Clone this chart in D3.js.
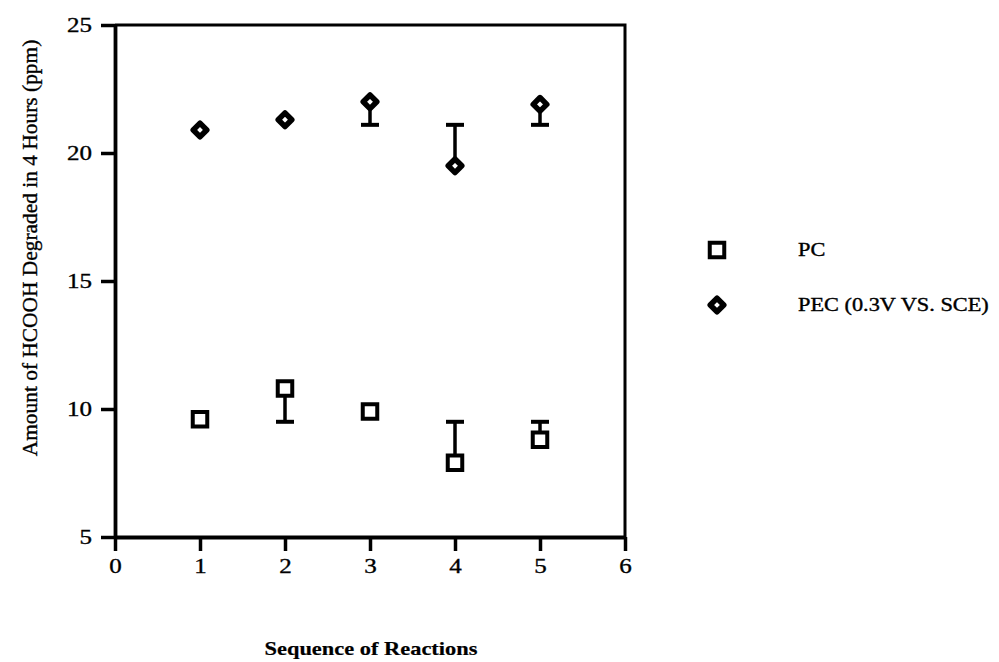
<!DOCTYPE html>
<html>
<head>
<meta charset="utf-8">
<script src="https://cdn.jsdelivr.net/npm/d3@7"></script>
<style>
  html, body { margin: 0; padding: 0; background: #fff; }
  svg { display: block; }
  text { font-family: "Liberation Serif", "Times New Roman", serif; fill: #000; stroke: #000; stroke-width: 0.35px; }
</style>
</head>
<body>
<svg id="chart" width="999" height="662"></svg>
<script>
// Reaction sequence numbers on the x axis
const reactions = [1, 2, 3, 4, 5];

// HCOOH degraded (ppm) for each run
const pcValues  = [9.6, 10.8, 9.9, 7.9, 8.8];
const pecValues = [20.9, 21.3, 22.0, 19.5, 21.9];

// End value of the one-sided error bar for each run (null = none visible)
const pcErrEnd  = [null, 9.5, null, 9.5, 9.5];
const pecErrEnd = [null, null, 21.1, 21.1, 21.1];

// Axis ticks
const xTicks = [0, 1, 2, 3, 4, 5, 6];
const yTicks = [5, 10, 15, 20, 25];

const seriesNames = ["PC", "PEC (0.3V VS. SCE)"];

const svg = d3.select("#chart");
const margin = { left: 115, top: 25, right: 374, bottom: 125 };
const W = 999, H = 662;

const x = d3.scaleLinear().domain([0, 6]).range([margin.left, W - margin.right]);
const y = d3.scaleLinear().domain([5, 25]).range([H - margin.bottom, margin.top]);

// Widen text horizontally (the lettering is set wide)
function stretch(sel, sx) {
  sel.each(function () {
    const L = this.getComputedTextLength();
    this.setAttribute("textLength", L * sx);
    this.setAttribute("lengthAdjust", "spacingAndGlyphs");
  });
}

// Frame (top and right sides)
svg.append("path")
  .attr("d", `M${x(0)},${y(25)}H${x(6)}V${y(5)}`)
  .attr("fill", "none").attr("stroke", "#000").attr("stroke-width", 3);

// Axes
const xAxis = d3.axisBottom(x).tickValues(xTicks).tickSize(14).tickSizeOuter(0).tickPadding(8)
  .tickFormat(d3.format("d"));
const yAxis = d3.axisLeft(y).tickValues(yTicks).tickSize(14).tickSizeOuter(0).tickPadding(9)
  .tickFormat(d3.format("d"));

const gx = svg.append("g").attr("transform", `translate(0,${y(5)})`).call(xAxis);
const gy = svg.append("g").attr("transform", `translate(${x(0)},0)`).call(yAxis);

[gx, gy].forEach(g => {
  g.select(".domain").attr("stroke", "#000").attr("stroke-width", 3.8);
  g.selectAll(".tick line").attr("stroke", "#000").attr("stroke-width", 3.5);
  g.selectAll(".tick text").attr("fill", "#000")
    .style("font-family", "'Liberation Serif', serif").style("font-size", "20px");
});
gy.selectAll(".tick text").attr("dy", "0.34em");
stretch(gx.selectAll(".tick text"), 1.25);
stretch(gy.selectAll(".tick text"), 1.25);

// Axis titles
svg.append("text")
  .attr("transform", "translate(37,248) rotate(-90)")
  .attr("text-anchor", "middle")
  .style("font-size", "20px")
  .text("Amount of HCOOH Degraded in 4 Hours (ppm)")
  .call(stretch, 1.07);

svg.append("text")
  .attr("x", 371).attr("y", 655)
  .attr("text-anchor", "middle")
  .style("font-size", "19px").style("font-weight", "bold").style("stroke-width", "0.2px")
  .text("Sequence of Reactions")
  .call(stretch, 1.18);

// Marker shapes
const sq = 14.5;  // square side (stroke centre)
const dm = 6.8;   // diamond half diagonal
function squarePath(cx, cy) {
  return `M${cx - sq / 2},${cy - sq / 2}h${sq}v${sq}h${-sq}Z`;
}
function diamondPath(cx, cy) {
  return `M${cx},${cy - dm}L${cx + dm},${cy}L${cx},${cy + dm}L${cx - dm},${cy}Z`;
}

// Error bars
function drawErr(vals, ends) {
  const data = reactions.map((r, i) => ({ r, v: vals[i], e: ends[i] })).filter(d => d.e !== null);
  const g = svg.append("g").attr("stroke", "#000").attr("fill", "none");
  g.selectAll("line.stem").data(data).join("line")
    .attr("x1", d => x(d.r)).attr("x2", d => x(d.r))
    .attr("y1", d => y(d.v)).attr("y2", d => y(d.e))
    .attr("stroke-width", 3.5);
  g.selectAll("line.cap").data(data).join("line")
    .attr("x1", d => x(d.r) - 9).attr("x2", d => x(d.r) + 9)
    .attr("y1", d => y(d.e)).attr("y2", d => y(d.e))
    .attr("stroke-width", 4);
}
drawErr(pcValues, pcErrEnd);
drawErr(pecValues, pecErrEnd);

// PC squares
svg.append("g").selectAll("path").data(reactions).join("path")
  .attr("d", (r, i) => squarePath(x(r), y(pcValues[i])))
  .attr("fill", "#fff").attr("stroke", "#000").attr("stroke-width", 4);

// PEC diamonds
svg.append("g").selectAll("path").data(reactions).join("path")
  .attr("d", (r, i) => diamondPath(x(r), y(pecValues[i])))
  .attr("fill", "#fff").attr("stroke", "#000").attr("stroke-width", 5.5)
  .attr("stroke-linejoin", "round");

// Legend
const legend = svg.append("g");
const legendY = [250, 305];
legend.append("path").attr("d", squarePath(717, legendY[0]))
  .attr("fill", "#fff").attr("stroke", "#000").attr("stroke-width", 4);
legend.append("path").attr("d", diamondPath(717, legendY[1]))
  .attr("fill", "#fff").attr("stroke", "#000").attr("stroke-width", 5.5)
  .attr("stroke-linejoin", "round");
legend.selectAll("text").data(seriesNames).join("text")
  .attr("x", 798).attr("y", (d, i) => legendY[i]).attr("dy", "0.35em")
  .style("font-size", "18px")
  .text(d => d)
  .call(stretch, 1.24);
</script>
</body>
</html>
